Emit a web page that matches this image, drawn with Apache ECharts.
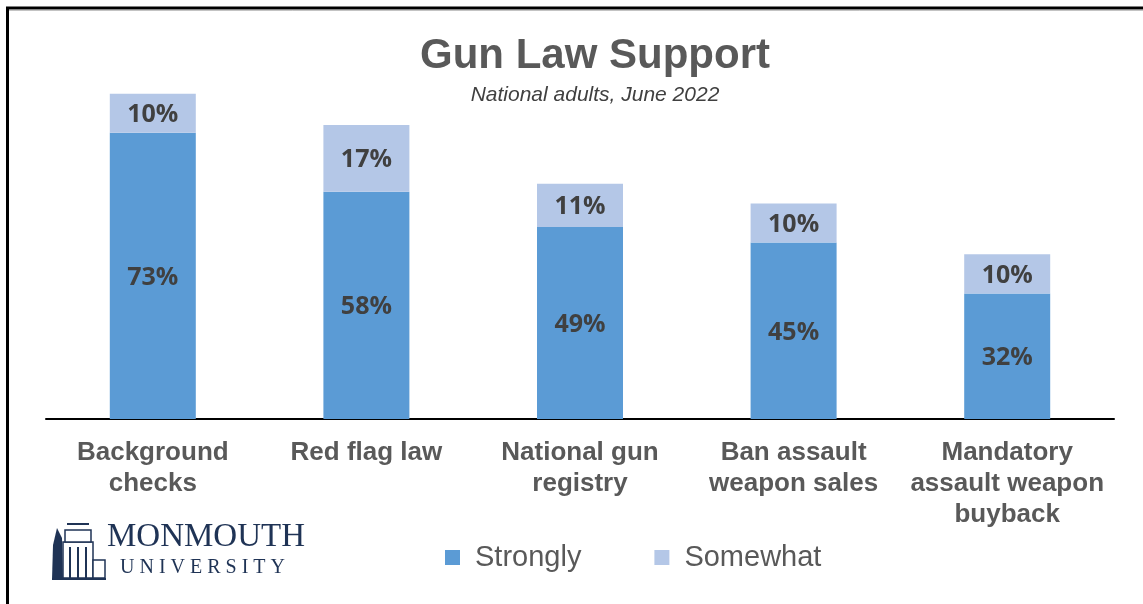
<!DOCTYPE html>
<html>
<head>
<meta charset="utf-8">
<script src="https://cdn.jsdelivr.net/npm/echarts@6/dist/echarts.min.js"></script>
<style>
html,body{margin:0;padding:0;background:#fff;}
#chart{width:1143px;height:604px;}
</style>
</head>
<body>
<div id="chart"></div>
<script>
const categories = ['Background\nchecks', 'Red flag law', 'National gun\nregistry', 'Ban assault\nweapon sales', 'Mandatory\nassault weapon\nbuyback'];
const strongly = [73, 58, 49, 45, 32];
const somewhat = [10, 17, 11, 10, 10];
const seriesNames = ['Strongly', 'Somewhat'];

const chart = echarts.init(document.getElementById('chart'));
const navy = '#1F3355';
const labelStyle = { show: true, position: 'inside', offset: [0, 2], formatter: '{c}%', fontFamily: 'Open Sans, Liberation Sans', fontSize: 25, fontWeight: 'bold', color: '#404040' };
chart.setOption({
  backgroundColor: '#ffffff',
  animation: false,
  title: [
    { text: 'Gun Law Support', left: 595, top: 35, textAlign: 'center', padding: 0,
      textStyle: { fontFamily: 'Liberation Sans, Arial', fontSize: 42, fontWeight: 'bold', color: '#595959' } },
    { text: 'National adults, June 2022', left: 595, top: 85, textAlign: 'center', padding: 0,
      textStyle: { fontFamily: 'Liberation Sans, Arial', fontSize: 21, fontStyle: 'italic', fontWeight: 'normal', color: '#404040' } }
  ],
  legend: {
    data: seriesNames,
    left: 445, top: 543, padding: 0,
    icon: 'rect', itemWidth: 15, itemHeight: 15, itemGap: 73,
    textStyle: { fontFamily: 'Liberation Sans, Arial', fontSize: 29, color: '#595959', padding: [2, 0, 0, 10] }
  },
  grid: { left: 46, right: 29, top: 27, bottom: 185 },
  xAxis: {
    type: 'category', data: categories,
    axisLine: { show: true, lineStyle: { color: '#000', width: 2 } },
    axisTick: { show: false },
    axisLabel: { interval: 0, margin: 18, fontFamily: 'Liberation Sans, Arial', fontSize: 26, fontWeight: 'bold', color: '#595959', lineHeight: 31, align: 'center' }
  },
  yAxis: { type: 'value', min: 0, max: 100, show: false, splitLine: { show: false } },
  series: [
    { name: seriesNames[0], type: 'bar', stack: 'total', data: strongly, barWidth: 86,
      itemStyle: { color: '#5B9BD5' }, label: labelStyle },
    { name: seriesNames[1], type: 'bar', stack: 'total', data: somewhat, barWidth: 86,
      itemStyle: { color: '#B4C7E7' }, label: labelStyle }
  ],
  graphic: [
    // frame lines
    { type: 'line', shape: { x1: 7.5, y1: 8, x2: 7.5, y2: 604 }, style: { stroke: '#000', lineWidth: 3 } },
    { type: 'line', shape: { x1: 6, y1: 8, x2: 1143, y2: 8 }, style: { stroke: '#000', lineWidth: 3 } },
    { type: 'line', shape: { x1: 9, y1: 10, x2: 1143, y2: 10 }, style: { stroke: '#888', lineWidth: 1 } },
    // logo: tree
    { type: 'polygon', shape: { points: [[57, 528], [62, 538], [63, 580], [52, 580], [53, 545]] }, style: { fill: navy } },
    // logo: building
    { type: 'rect', shape: { x: 63, y: 542, width: 30, height: 36 }, style: { fill: '#fff', stroke: navy, lineWidth: 1.5 } },
    { type: 'rect', shape: { x: 65, y: 530, width: 26, height: 12 }, style: { fill: '#fff', stroke: navy, lineWidth: 1.5 } },
    { type: 'line', shape: { x1: 67, y1: 524, x2: 89, y2: 524 }, style: { stroke: navy, lineWidth: 2 } },
    { type: 'line', shape: { x1: 70, y1: 547, x2: 70, y2: 578 }, style: { stroke: navy, lineWidth: 2 } },
    { type: 'line', shape: { x1: 78, y1: 547, x2: 78, y2: 578 }, style: { stroke: navy, lineWidth: 2 } },
    { type: 'line', shape: { x1: 86, y1: 547, x2: 86, y2: 578 }, style: { stroke: navy, lineWidth: 2 } },
    { type: 'rect', shape: { x: 93, y: 560, width: 12, height: 18 }, style: { fill: '#fff', stroke: navy, lineWidth: 1.5 } },
    { type: 'line', shape: { x1: 52, y1: 579, x2: 106, y2: 579 }, style: { stroke: navy, lineWidth: 2 } },
    // logo text
    { type: 'text', left: 107, top: 521, style: { text: 'MONMOUTH', fontFamily: 'Liberation Serif, Times New Roman', fontSize: 33, fill: navy } },
    { type: 'text', left: 120, top: 558, style: { text: 'U N I V E R S I T Y', fontFamily: 'Liberation Serif, Times New Roman', fontSize: 20, fill: navy } }
  ]
});
</script>
</body>
</html>
